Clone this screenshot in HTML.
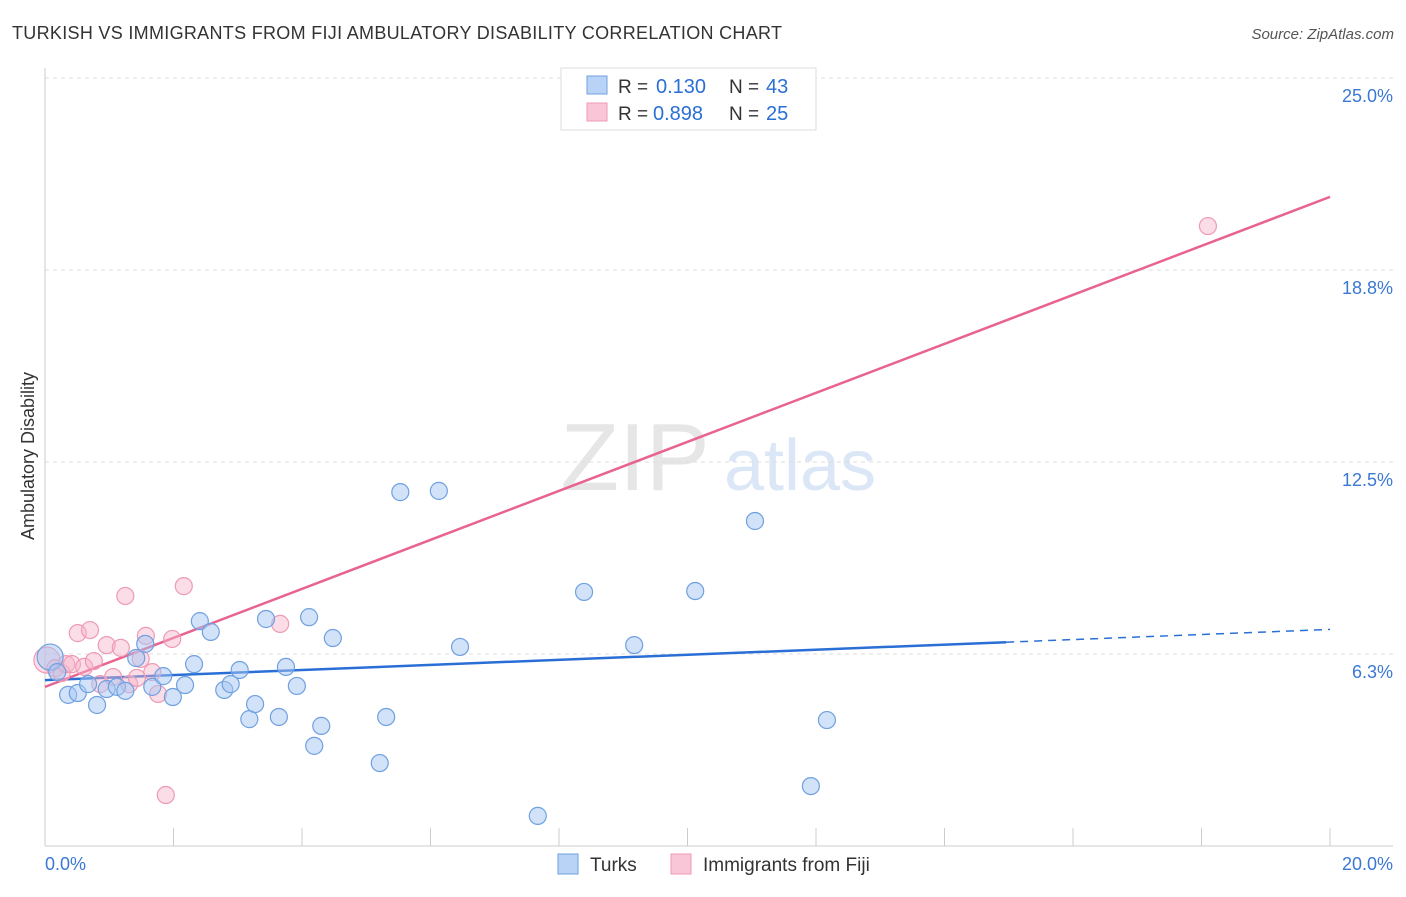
<!DOCTYPE html>
<html><head><meta charset="utf-8"><style>
body{margin:0;background:#fff;font-family:"Liberation Sans",sans-serif;}
svg text{font-family:"Liberation Sans",sans-serif;}
</style></head><body>
<svg id="c" width="1406" height="892">
<text x="12" y="39" font-size="18" fill="#333" textLength="770">TURKISH VS IMMIGRANTS FROM FIJI AMBULATORY DISABILITY CORRELATION CHART</text>
<text x="1394" y="39" font-size="15" fill="#555" font-style="italic" text-anchor="end">Source: ZipAtlas.com</text>
<text x="34" y="456" font-size="18" fill="#333" text-anchor="middle" transform="rotate(-90 34 456)">Ambulatory Disability</text>
<g><text x="635" y="490" font-size="96" fill="#e6e6e6" font-family="Liberation Serif" text-anchor="middle">ZIP</text><text x="800" y="490" font-size="72" fill="#dbe7f6" text-anchor="middle">atlas</text></g>
<g id="grid"></g><g id="axes"></g><g id="lines"></g><g id="pts"></g>
<g>
<rect x="561" y="68" width="255" height="62" fill="#fff" stroke="#ddd"/>
<rect x="587" y="76" width="20" height="18" fill="#b8d3f5" stroke="#6fa0e0"/>
<text x="618" y="93" font-size="19" fill="#333">R =</text>
<text x="656" y="93" font-size="20" fill="#2a6fd6">0.130</text>
<text x="729" y="93" font-size="19" fill="#333">N =</text>
<text x="766" y="93" font-size="20" fill="#2a6fd6">43</text>
<rect x="587" y="103" width="20" height="18" fill="#f8c6d6" stroke="#ee9ab5"/>
<text x="618" y="120" font-size="19" fill="#333">R =</text>
<text x="653" y="120" font-size="20" fill="#2a6fd6">0.898</text>
<text x="729" y="120" font-size="19" fill="#333">N =</text>
<text x="766" y="120" font-size="20" fill="#2a6fd6">25</text>
</g>
<g>
<rect x="558" y="854" width="20" height="20" fill="#b8d3f5" stroke="#6fa0e0"/>
<text x="590" y="871" font-size="19" fill="#333">Turks</text>
<rect x="671" y="854" width="20" height="20" fill="#f8c6d6" stroke="#ee9ab5"/>
<text x="703" y="871" font-size="19" fill="#333">Immigrants from Fiji</text>
</g>
</svg>
<script>
const yTicks=[6.25,12.5,18.75,25];
const yTickLabels=["6.3%","12.5%","18.8%","25.0%"];
const xTickVals=[0,2,4,6,8,10,12,14,16,18,20];
const turksX=[0.08,0.19,0.36,0.51,0.67,0.81,0.96,1.12,1.25,1.42,1.56,1.67,1.84,1.99,2.18,2.32,2.41,2.58,2.79,2.89,3.03,3.18,3.27,3.44,3.64,3.75,3.92,4.11,4.19,4.30,4.48,5.21,5.31,5.53,6.13,6.46,7.67,8.39,9.17,10.12,11.05,11.92,12.17];
const turksY=[6.15,5.66,4.92,4.98,5.27,4.59,5.11,5.18,5.05,6.12,6.58,5.18,5.53,4.85,5.24,5.92,7.32,6.97,5.08,5.27,5.73,4.13,4.62,7.39,4.20,5.83,5.21,7.45,3.26,3.91,6.77,2.70,4.20,11.52,11.56,6.48,0.98,8.27,6.54,8.30,10.58,1.95,4.10];
const fijiX=[0.03,0.16,0.26,0.33,0.42,0.51,0.61,0.70,0.76,0.86,0.96,1.06,1.18,1.25,1.31,1.43,1.49,1.57,1.67,1.76,1.88,1.98,2.16,3.66,18.10];
const fijiY=[6.05,5.79,5.63,5.92,5.92,6.93,5.83,7.03,6.02,5.27,6.54,5.50,6.45,8.14,5.27,5.47,6.09,6.84,5.66,4.95,1.66,6.74,8.46,7.23,20.18];
const turksTrend=[5.40,7.05];
const fijiTrend=[5.18,21.13];
const NS="http://www.w3.org/2000/svg";
const X=v=>45+v*1285/20, Y=v=>846-v*192/6.25;
function mk(t,a,p){const e=document.createElementNS(NS,t);for(const k in a)e.setAttribute(k,a[k]);p.appendChild(e);return e;}
const g=document.getElementById('grid'),ax=document.getElementById('axes'),ln=document.getElementById('lines'),pts=document.getElementById('pts');
yTicks.forEach((t,i)=>{
 const l=mk('line',{x1:45,x2:1393,y1:Y(t),y2:Y(t),stroke:'#ddd','stroke-dasharray':'4 4'},g);
 
 
 const tx=mk('text',{x:1393,y:Y(t)+24,'font-size':18,fill:'#3a78d4','text-anchor':'end'},ax);
 tx.textContent=yTickLabels[i];
 
 
});
const bl=mk('line',{x1:45,x2:1393,y1:846,y2:846,stroke:'#ccc'},ax);


const la=mk('line',{x1:45,x2:45,y1:68,y2:846,stroke:'#ccc'},ax);


xTickVals.forEach(v=>{const t=mk('line',{x1:X(v),x2:X(v),y1:828,y2:846,stroke:'#ccc'},ax);
 
 });
[[0,"0.0%",'start',45],[20,"20.0%",'end',1393]].forEach(a=>{const t=mk('text',{x:a[3],y:870,'font-size':18,fill:'#3a78d4','text-anchor':a[2]},ax);t.textContent=a[1];
 
 });
const ty=x=>turksTrend[0]+(turksTrend[1]-turksTrend[0])*x/20;
let l1=mk('line',{x1:X(0),y1:Y(ty(0)),x2:X(14.96),y2:Y(ty(14.96)),stroke:'#2a6fd6','stroke-width':2.5},ln);


let l2=mk('line',{x1:X(14.96),y1:Y(ty(14.96)),x2:X(20),y2:Y(ty(20)),stroke:'#2a6fd6','stroke-width':1.5,'stroke-dasharray':'8 6'},ln);


let l3=mk('line',{x1:X(0),y1:Y(fijiTrend[0]),x2:X(20),y2:Y(fijiTrend[1]),stroke:'#e8638f','stroke-width':2.5},ln);


function draw(xs,ys,fill,stroke,name){xs.forEach((x,i)=>{const c=mk('circle',{cx:X(x),cy:Y(ys[i]),r:i===0?13:8.5,fill:fill,stroke:stroke,'stroke-width':1.2},pts);
 
 });}
draw(fijiX,fijiY,'rgba(246,180,202,0.45)','#ee9ab5','fiji-point');
draw(turksX,turksY,'rgba(165,198,242,0.5)','#6fa0e0','turks-point');
</script>
</body></html>
